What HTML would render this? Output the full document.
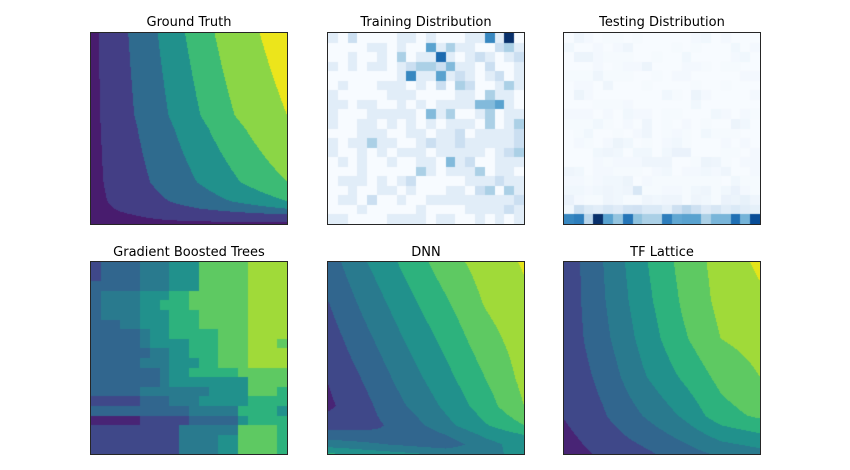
<!DOCTYPE html>
<html><head><meta charset="utf-8">
<style>
body{margin:0;background:#fff;}
#fig{position:relative;width:850px;height:470px;background:#fff;overflow:hidden;font-family:"DejaVu Sans","Liberation Sans",sans-serif;}
.ax{position:absolute;box-sizing:border-box;border:1px solid #262626;}
.ax canvas{position:absolute;left:0;top:0;}
.ttl{position:absolute;width:260px;text-align:center;font-size:13px;color:#000;}
</style></head><body>
<div id="fig">
<div class="ttl" style="left:59px;top:15px">Ground Truth</div>
<div class="ttl" style="left:296px;top:15px">Training Distribution</div>
<div class="ttl" style="left:532px;top:15px">Testing Distribution</div>
<div class="ttl" style="left:59px;top:245px">Gradient Boosted Trees</div>
<div class="ttl" style="left:296px;top:245px">DNN</div>
<div class="ttl" style="left:532px;top:245px">TF Lattice</div>

<div class="ax" style="left:90px;top:32px;width:198px;height:193px"><canvas id="c0" width="196" height="191"></canvas></div>
<div class="ax" style="left:327px;top:32px;width:198px;height:193px"><canvas id="c1" width="196" height="191"></canvas></div>
<div class="ax" style="left:563px;top:32px;width:198px;height:193px"><canvas id="c2" width="196" height="191"></canvas></div>
<div class="ax" style="left:90px;top:261px;width:198px;height:194px"><canvas id="c3" width="196" height="192"></canvas></div>
<div class="ax" style="left:327px;top:261px;width:198px;height:194px"><canvas id="c4" width="196" height="192"></canvas></div>
<div class="ax" style="left:563px;top:261px;width:198px;height:194px"><canvas id="c5" width="196" height="192"></canvas></div>
</div>
<script>
// ---- data ----
const trainGrid = [
[1,0,2,0,0,0,0,1,1,0,1,0,0,0,1,1,6,1,9,0],
[0,0,0,0,1,1,0,1,0,0,5,1,3,1,1,0,0,2,3,1],
[0,0,1,0,0,1,0,3,0,1,1,7,1,0,1,2,1,0,1,2],
[1,0,1,0,1,1,0,1,2,3,3,2,4,1,1,0,2,0,0,1],
[0,0,0,0,0,0,0,1,6,1,1,5,1,2,1,0,1,2,0,1],
[0,1,0,0,0,1,1,1,0,1,0,2,0,3,2,0,0,1,3,1],
[1,0,0,0,0,0,1,1,1,0,0,0,0,1,1,0,3,1,1,0],
[1,1,0,1,1,0,0,1,0,1,0,1,1,1,1,4,4,5,1,0],
[1,0,0,0,1,1,1,1,1,0,4,1,3,0,0,1,3,0,1,1],
[1,0,0,1,1,0,1,0,1,0,1,0,1,1,1,0,3,0,1,3],
[0,0,0,1,1,1,0,0,1,1,0,1,1,2,0,1,1,1,1,2],
[1,0,1,1,3,1,1,0,0,1,2,1,1,2,1,1,1,1,1,2],
[1,0,0,1,0,1,0,1,1,1,0,1,1,1,1,1,0,1,2,3],
[0,1,0,1,0,0,1,0,0,1,1,0,4,1,2,0,0,1,1,1],
[0,0,0,1,0,0,0,0,0,3,1,0,1,1,1,3,0,1,1,0],
[0,1,1,1,0,1,0,1,2,0,0,0,0,0,1,1,1,2,1,1],
[0,0,1,0,0,1,1,0,1,0,0,0,1,1,0,2,3,0,3,1],
[0,1,1,0,2,0,0,1,0,0,1,1,1,1,1,1,1,1,1,2],
[0,0,0,1,0,0,0,0,0,1,0,0,0,0,1,1,1,1,2,1],
[1,1,0,0,0,0,1,1,1,1,0,1,1,0,0,1,0,1,0,1]];
const testGrid = [
[0,.4,.2,0,.1,.1,0,.1,0,0,0,0,0,.2,.3,0,.2,0,0,0],
[.3,0,0,.2,0,.2,.4,0,0,0,0,.1,0,.1,0,0,0,.3,0,.2],
[0,.5,.5,.2,.1,.1,.1,0,0,.1,0,0,.3,0,0,0,0,.2,.3,0],
[0,0,0,.2,0,.1,.2,.2,.5,0,0,0,.2,.2,.1,0,.1,.1,0,0],
[.1,.1,.1,.4,.1,.1,.1,0,0,.1,0,.2,.2,0,0,0,0,0,.2,.2],
[0,.2,.2,0,.4,0,0,0,.1,0,0,0,0,.1,0,0,.1,0,0,0],
[0,.5,.2,0,0,0,0,0,0,0,.3,.1,0,.5,.2,0,0,0,0,.2],
[0,0,0,.1,.1,.1,.2,0,0,0,0,0,0,.3,0,0,0,0,0,0],
[.2,.2,.2,0,.2,0,.3,.2,.2,0,.1,.1,0,0,0,.3,.2,0,.2,.1],
[.1,.1,.1,.3,.1,0,.2,0,.4,0,.1,0,.2,0,.1,0,0,.5,.3,0],
[0,.1,.3,0,0,.1,0,.2,.4,0,.1,.2,.1,0,.3,.1,.1,.1,0,0],
[0,.2,.1,0,.2,.5,.3,0,.1,0,.2,.3,.1,0,0,0,.2,0,.2,0],
[0,0,0,.3,.4,.3,0,.3,.3,0,.3,.6,.6,0,0,0,.1,.1,0,.2],
[0,0,0,.2,.1,.2,.2,.2,.4,.4,.4,0,0,.1,.5,.4,.1,0,.2,.2],
[.4,.3,0,.2,.2,.1,.1,.1,0,.2,.3,0,.2,.2,.3,.2,.4,0,0,.2],
[.2,.2,.1,.2,.3,.3,.5,0,.2,.1,.1,.1,.1,.1,.1,.1,0,.3,.1,.1],
[.3,.3,.2,.3,.4,.3,.4,1.4,.1,.1,.2,.2,.1,.3,.4,.1,.3,.6,.2,.1],
[.6,.2,.1,.1,.4,.3,.1,.1,.4,.3,.4,.4,.1,.4,.3,.1,.6,.5,.7,.4],
[.3,1.9,1.2,1.0,1.4,1.1,1.7,1.8,1.3,1.3,.8,1.9,2.6,1.9,1.1,1.5,1.0,1.3,1.0,.8],
[6,6.3,2.6,9,5,3.6,6.6,3.7,3,3,6.3,4.8,5,5,3,4.2,4.2,6.8,4.3,8]];
const gtLevels = [0.04,0.19,0.34,0.48,0.63,0.86];
const gtSy = [0,0.02,0.05,0.08,0.12,0.22,0.5,0.57,1];
const gtSv = [0,0.1,0.19,0.34,0.48,0.63,0.8,0.86,1];
const gtColors = ["#481c6e","#433e85","#2f6b8e","#21918c","#3cbb75","#8bd646","#ece51b"];
const modelColors = ["#482475","#3f4889","#31668e","#297a8e","#21918c","#2db27d","#5ec962","#a0da39","#e5e419"];
const gbtGrid = [
"12222333444666667777","12222333444666667777","22222333444666667777",
"23333444556666667777","23333445556666667777","23333444555666667777",
"22233444555666667777","22222344555556667777","22222344445556667776",
"22222233445556667777","22222333444556667777","22222223445555566666",
"22222223444444446666","22222333333344446665","11111222333444445555",
"22222222223333355554","00000111112222245555","11111111133333366665",
"11111111133334466665","11111111133334466665"];
const latX = [0,0.2,0.4,0.6,0.8,1];
const latT = [0,0.2,0.4,0.6,0.8,1];
const latV = [
[1.3,3.0,4.8,6.3,7.4,8.2],
[1.3,2.9,4.6,6.1,7.3,7.8],
[1.3,2.7,4.3,5.8,7.0,7.4],
[1.2,2.3,3.85,5.1,6.3,7.0],
[1.05,1.9,3.0,4.1,5.6,6.2],
[0.5,1.2,1.75,2.45,3.2,3.6]];
const dnnX = [0,0.2,0.4,0.6,0.8,1];
const dnnT = [0,0.2,0.4,0.6,0.75,0.85,0.9,0.95,1];
const dnnV = [
[2.5,4.0,5.3,6.55,7.45,8.1],
[2.0,3.4,4.7,5.9,7.1,7.8],
[1.5,2.8,4.1,5.3,6.6,7.5],
[1.05,2.2,3.5,4.7,6.0,7.3],
[0.8,1.8,3.0,4.2,5.5,7.0],
[1.5,1.7,2.4,3.7,4.9,6.0],
[2.5,2.3,2.0,3.0,4.2,5.0],
[3.5,3.2,2.8,2.4,3.6,4.5],
[5.2,4.6,4.2,3.8,3.8,4.2]];

function hex(h){return [parseInt(h.substr(1,2),16),parseInt(h.substr(3,2),16),parseInt(h.substr(5,2),16)];}
const bluesStops=["#f7fbff","#deebf7","#c6dbef","#9ecae1","#6baed6","#4292c6","#2171b5","#08519c","#08306b"].map(hex);
function blues(t){t=Math.max(0,Math.min(1,t));const p=t*8,i=Math.min(7,Math.floor(p)),f=p-i;const a=bluesStops[i],b=bluesStops[i+1];return "rgb("+a.map((v,k)=>Math.round(v+(b[k]-v)*f)).join(",")+")";}
function interp1(xs,vs,x){if(x<=xs[0])return vs[0];for(let i=1;i<xs.length;i++){if(x<=xs[i]){const f=(x-xs[i-1])/(xs[i]-xs[i-1]);return vs[i-1]+(vs[i]-vs[i-1])*f;}}return vs[vs.length-1];}
function seg(xs,x){for(let i=1;i<xs.length;i++){if(x<=xs[i])return [i-1,(x-xs[i-1])/(xs[i]-xs[i-1])];}return [xs.length-2,1];}
function bilin(xs,ts,V,x,t){const [i,fx]=seg(xs,x),[j,ft]=seg(ts,t);const a=V[j][i],b=V[j][i+1],c=V[j+1][i],d=V[j+1][i+1];return (a*(1-fx)+b*fx)*(1-ft)+(c*(1-fx)+d*fx)*ft;}
function fillField(id,fn,colors){const cv=document.getElementById(id),ctx=cv.getContext("2d"),W=cv.width,H=cv.height;const img=ctx.createImageData(W,H);const cols=colors.map(hex);
for(let py=0;py<H;py++)for(let px=0;px<W;px++){const x=(px+0.5)/W,t=(py+0.5)/H;let k=fn(x,t);k=Math.max(0,Math.min(cols.length-1,k));const c=cols[k],o=(py*W+px)*4;img.data[o]=c[0];img.data[o+1]=c[1];img.data[o+2]=c[2];img.data[o+3]=255;}
ctx.putImageData(img,0,0);}
function heat(id,grid,vmax){const cv=document.getElementById(id),ctx=cv.getContext("2d"),W=cv.width,H=cv.height;const R=grid.length,C=grid[0].length;
for(let r=0;r<R;r++)for(let c=0;c<C;c++){const x0=Math.round(c*W/C),x1=Math.round((c+1)*W/C),y0=Math.round(r*H/R),y1=Math.round((r+1)*H/R);ctx.fillStyle=blues(grid[r][c]/vmax);ctx.fillRect(x0,y0,x1-x0,y1-y0);}}

fillField("c0",(x,t)=>{const f=x*interp1(gtSy,gtSv,1-t);let k=0;for(const l of gtLevels)if(f>l)k++;return k;},gtColors);
heat("c1",trainGrid,9);
heat("c2",testGrid,9);
fillField("c3",(x,t)=>{const R=gbtGrid.length,C=gbtGrid[0].length;const r=Math.min(R-1,Math.floor(t*R)),c=Math.min(C-1,Math.floor(x*C));return +gbtGrid[r][c];},modelColors);
fillField("c4",(x,t)=>Math.floor(bilin(dnnX,dnnT,dnnV,x,t)),modelColors);
fillField("c5",(x,t)=>Math.floor(bilin(latX,latT,latV,x,t)),modelColors);
</script>
</body></html>
